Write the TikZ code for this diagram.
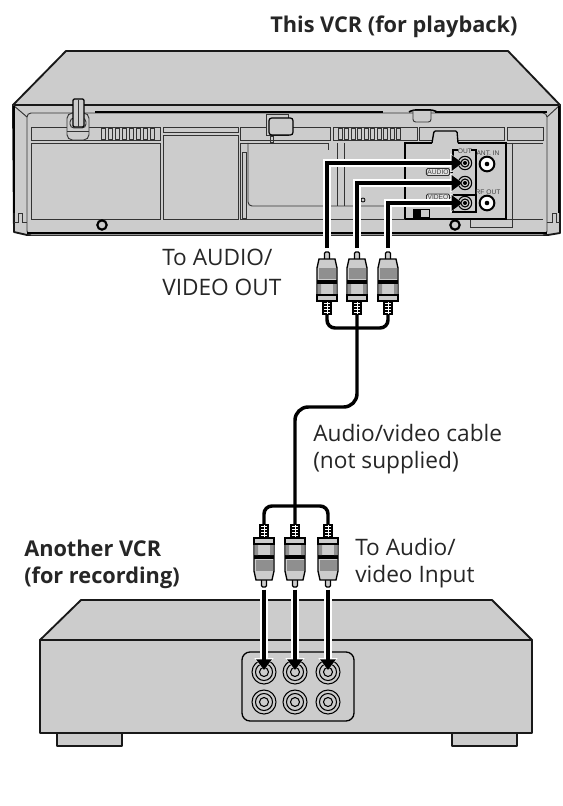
\documentclass[tikz,border=0pt]{standalone}
\usepackage{fontspec}
\setmainfont{Open Sans}
\newfontfamily\panelfont{Liberation Sans}
\usepackage{xcolor}
\usepackage{tikz}
\usetikzlibrary{
  arrows.meta,
  positioning,
  calc
}
\definecolor{bodygray}{HTML}{CCCCCC}
\definecolor{inkline}{HTML}{333333}
\tikzset{
  shell/.style={
    draw=black!90,
    fill=bodygray,
    line width=1.4pt,
    line join=round,
  },
  trim/.style={
    draw=inkline,
    line width=0.7pt,
  },
  cable/.style={
    draw=black,
    line width=2.6pt,
    rounded corners=6pt,
  },
  arr/.style={
    -{Triangle[length=8pt,width=11.5pt]},
    draw=black,
    line width=3.3pt,
    preaction={
      draw=white,
      line width=5.5pt,
      -{Triangle[length=9pt,width=14pt]},
    },
  },
  outjack/.style={
    circle,
    draw=black,
    fill=bodygray,
    line width=0.8pt,
    minimum size=18pt,
    inner sep=0pt,
    path picture={
      \draw[line width=0.8pt] (path picture bounding box.center) circle (8.5);
      \draw[line width=0.8pt] (path picture bounding box.center) circle (4.5);
    },
  },
  smalljack/.style={
    circle,
    draw=black,
    fill=bodygray,
    line width=0.8pt,
    minimum size=10pt,
    inner sep=0pt,
    path picture={
      \draw[line width=0.8pt] (path picture bounding box.center) circle (4);
      \fill[black] (path picture bounding box.center) circle (2);
    },
  },
  antjack/.style={
    circle,
    draw=black,
    fill=white,
    line width=1.5pt,
    minimum size=11pt,
    inner sep=0pt,
    path picture={
      \fill[black] (path picture bounding box.center) circle (2.3);
    },
  },
  screw/.style={
    circle,
    draw=black,
    fill=bodygray,
    line width=1.6pt,
    minimum size=7pt,
    inner sep=0pt,
  },
  tag/.style={
    font=\panelfont\fontsize{5}{6}\selectfont,
    text=black!75,
    inner sep=0.5pt,
  },
  tagbox/.style={
    tag,
    draw=inkline,
    fill=bodygray!60!white,
    rounded corners=1pt,
    line width=0.6pt,
    inner sep=0.8pt,
  },
  lbl/.style={
    font=\fontsize{17}{20}\selectfont,
    text=black!85,
    align=left,
    inner sep=0pt,
    anchor=base west,
  },
  headlbl/.style={
    lbl,
    font=\fontsize{16.3}{20}\selectfont\bfseries,
  },
  rcaplug/.pic={
    % tip at the origin, tail 63 units further along y
    \draw[fill=bodygray,line width=0.9pt,rounded corners=1pt] (-2.5,8) -- (-2.5,0) -- (2.5,0) -- (2.5,8);
    \fill[black] (-5,49) rectangle (5,63);
    \foreach \hy in {51.5,54.5,57.5,60.5} {
      \draw[white,line width=0.5pt] (-3,\hy) -- (3,\hy);
    }
    \draw[white,line width=0.5pt] (0,50) -- (0,62);
    \draw[fill=bodygray,draw=black,line width=1pt] (-8,7) -- (8,7) -- (10,16) -- (10,43) -- (-10,43) -- (-10,16) -- cycle;
    \fill[bodygray!70!black] (-8.5,16) rectangle (8.5,27);
    \fill[black] (-10,28) rectangle (10,32);
    \fill[bodygray!70!black] (-9.5,32) rectangle (-6,43) (6,32) rectangle (9.5,43);
    \draw[fill=bodygray,line width=1pt] (-10,43) rectangle (10,49);
    \coordinate (-tip) at (0,0);
    \coordinate (-tail) at (0,63);
  },
}

\begin{document}
\begin{tikzpicture}[x=0.75pt, y=-0.75pt]
  \useasboundingbox[fill=white] (0,0) rectangle (562,806);

  % Playback VCR - housing
  \draw[shell] (66,51) -- (508,51) -- (560,105) -- (13,105) -- cycle;
  \draw[shell] (13,105) -- (560,105) -- (560,233) -- (548,235) -- (27,235) -- (14,232) -- cycle;
  \draw[trim, fill=bodygray, rounded corners=3pt] (27,113) -- (547,113) -- (547,235) -- (27,235) -- cycle;
  \draw[trim] (13,105) -- (27,117) (560,105) -- (547,117);
  \draw[line width=2pt] (14,106) -- (14,213);
  \draw[line width=2pt] (559,106) -- (559,213);
  \draw[line width=1.4pt] (95,112) -- (383,112) (435,112) -- (547,112);
  \draw[line width=1.2pt, fill=bodygray, rounded corners=2pt] (409,112) -- (413,110) -- (433,110) -- (437,112);
  \draw[trim, fill=bodygray, rounded corners=2pt] (413,111) -- (413,122) -- (431,122) -- (431,111);
  \draw[line width=1.4pt] (27,233) -- (547,233);

  % Playback VCR - front panels
  \draw[trim] (31,127) rectangle (160,140);
  \draw[trim] (31,143) rectangle (160,219);
  \draw[trim] (163,127) rectangle (238,132);
  \draw[trim] (163,135) rectangle (238,219);
  \draw[trim] (240,127) rectangle (330,140);
  \draw[trim] (333,127) rectangle (417,140);
  \draw[trim] (419,127) rectangle (504,140);
  \draw[trim] (507,127) rectangle (543,140);
  \draw[trim] (240,219) -- (240,143) -- (328,143);
  \draw[trim, rounded corners=3pt] (248,143) -- (248,206) -- (405,206);
  \draw[trim] (328,143) -- (328,150);
  \draw[trim] (242,152) rectangle (246,218);
  \draw[trim] (337,143) -- (337,206) (344,143) -- (344,206);
  \draw[trim] (240,219) -- (405,219);
  \draw[trim] (506,143) -- (543,143) (512,143) -- (512,219) (506,219) -- (543,219);
  \draw[trim] (470,219) -- (470,227) -- (512,227) -- (512,219);
  \foreach \vx in {0,...,7} {
    \draw[trim] ({101+7*\vx},128) rectangle ({105+7*\vx},139);
  }
  \foreach \vx in {0,...,9} {
    \draw[trim] ({338+6.5*\vx},128) rectangle ({342+6.5*\vx},139);
  }

  % Playback VCR - clips and small parts
  \draw[trim, fill=bodygray, rounded corners=4pt] (67,113) rectangle (89,140);
  \draw[trim] (67,131) -- (89,131);
  \draw[trim, fill=bodygray, rounded corners=3pt] (70,118) rectangle (86,128);
  \draw[line width=0.9pt, fill=bodygray, rounded corners=1pt] (73,127) -- (73,99) -- (84,99) -- (84,127) -- cycle;
  \draw[trim] (78.5,100) -- (78.5,127);
  \draw[trim, fill=bodygray] (266,114) rectangle (288,135);
  \draw[line width=0.9pt, fill=bodygray, rounded corners=2pt] (269,135) -- (269,118) -- (293,118) -- (293,135) -- cycle;
  \draw[trim] (270,136) rectangle (273,142);
  \draw[line width=1pt, fill=bodygray, rounded corners=1pt] (432,143) -- (434,131) -- (457,131) -- (458,143);
  \draw[trim] (14,222) -- (18,222) -- (18,213) -- (22,213) -- (22,222) -- (27,222);
  \draw[trim] (547,222) -- (552,222) -- (552,213) -- (556,213) -- (556,222) -- (560,222);

  % Playback VCR - connector panel
  \draw[line width=1.2pt] (405,219) -- (405,143) -- (432,143) (458,143) -- (506,143) -- (506,219) -- (405,219);
  \draw[line width=0.8pt] (458,150) -- (453,150) -- (453,157);
  \draw[line width=0.8pt] (471,150) -- (476,150) -- (476,212) -- (453,212) -- (453,207);
  \draw[line width=0.8pt] (453,195) -- (476,195);

  \node[tag] (outtag) at (465,151) {OUT};
  \node[tag] (anttag) at (488,153) {ANT. IN};
  \node[tag] (rftag) at (488,192) {RF OUT};
  \node[tagbox] (audiotag) at (438,172) {AUDIO};
  \node[tagbox] (videotag) at (438,197.5) {VIDEO};
  \draw[line width=0.7pt] (audiotag.east) -- (453,172);
  \draw[line width=0.7pt] (videotag.east) -- (453,197.5);

  \node[smalljack] (outa) at (465,163) {};
  \node[smalljack] (outb) at (465,183) {};
  \node[smalljack] (outc) at (465,203) {};
  \node[antjack] (antin) at (487,164) {};
  \node[antjack] (rfout) at (487,203) {};

  \node[draw=black, fill=bodygray, line width=0.7pt, minimum width=12pt, minimum height=6pt, inner sep=0pt] (switch) at (421,213) {};
  \fill[black] (switch.north west) rectangle (switch.south);
  \node[circle, draw=black, line width=0.6pt, minimum size=3pt, inner sep=0pt] (led) at (363,200) {};
  \node[screw] (screwa) at (102,225) {};
  \node[screw] (screwb) at (455,225) {};

  % Recording VCR
  \draw[shell] (57,730) rectangle (122,746);
  \draw[shell] (452,730) rectangle (517,746);
  \draw[shell] (81,600) -- (492,600) -- (532,640) -- (40,640) -- cycle;
  \draw[shell] (40,640) rectangle (532,733);
  \draw[line width=1pt, rounded corners=6pt] (242,652) rectangle (354,721);

  \node[outjack] (ina) at (264,672) {};
  \node[outjack] (inb) at (295,672) {};
  \node[outjack] (inc) at (328,672) {};
  \node[outjack] (ind) at (264,702) {};
  \node[outjack] (ine) at (295,702) {};
  \node[outjack] (inf) at (328,702) {};

  % Plugs
  \pic (plugtopa) at (327,252) {rcaplug};
  \pic (plugtopb) at (357,252) {rcaplug};
  \pic (plugtopc) at (388,252) {rcaplug};
  \pic[yscale=-1] (pluglowa) at (264,587) {rcaplug};
  \pic[yscale=-1] (pluglowb) at (295,587) {rcaplug};
  \pic[yscale=-1] (pluglowc) at (328,587) {rcaplug};

  % Cable
  \coordinate (tophub) at (357,328);
  \coordinate (lowhub) at (295,506);
  \coordinate (bendtop) at (357,407);
  \coordinate (bendlow) at (295,407);
  \draw[cable] (plugtopa-tail) |- (tophub) -| (plugtopc-tail);
  \draw[cable] (pluglowa-tail) |- (lowhub) -| (pluglowc-tail);
  \draw[cable, rounded corners=10pt] (plugtopb-tail) -- (bendtop) -- (bendlow) -- (pluglowb-tail);

  % Arrows into the jacks
  \draw[arr, shorten <=3pt, shorten >=2pt] (plugtopa-tip) |- (outa.center);
  \draw[arr, shorten <=3pt, shorten >=2pt] (plugtopb-tip) |- (outb.center);
  \draw[arr, shorten <=3pt, shorten >=2pt] (plugtopc-tip) |- (outc.center);
  \draw[arr, shorten <=2pt, shorten >=1.5pt] (pluglowa-tip) -- (ina.center);
  \draw[arr, shorten <=2pt, shorten >=1.5pt] (pluglowb-tip) -- (inb.center);
  \draw[arr, shorten <=2pt, shorten >=1.5pt] (pluglowc-tip) -- (inc.center);

  % Labels
  \node[headlbl] (playlbl) at (270,33) {This VCR (for playback)};
  \node[lbl] (outlbl) at (162,295) {To AUDIO/\\[2pt]VIDEO OUT};
  \node[lbl] (cablelbl) at (313,468) {Audio/video cable\\(not supplied)};
  \node[headlbl] (reclbl) at (24,583) {Another VCR\\(for recording)};
  \node[lbl] (inlbl) at (355,582) {To Audio/\\video Input};
\end{tikzpicture}
\end{document}
